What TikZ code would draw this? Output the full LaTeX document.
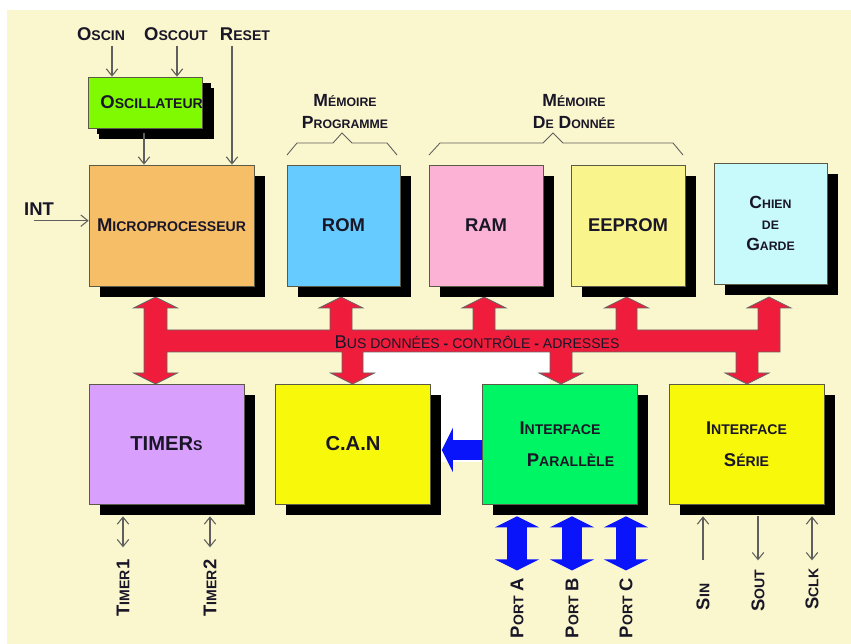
\documentclass[tikz,border=0pt]{standalone}
\usepackage{fontspec}
\setmainfont{Liberation Sans}
\usepackage{relsize}
\usetikzlibrary{arrows.meta,shadows,calc}
\definecolor{paper}{RGB}{250,246,205}
\definecolor{ink}{RGB}{25,22,40}
\definecolor{wire}{RGB}{95,95,95}
\definecolor{edge}{RGB}{90,90,70}
\definecolor{cosc}{RGB}{128,250,0}
\definecolor{cmpu}{RGB}{246,190,102}
\definecolor{crom}{RGB}{102,204,255}
\definecolor{cram}{RGB}{252,178,212}
\definecolor{ceep}{RGB}{250,244,140}
\definecolor{cwdg}{RGB}{200,250,252}
\definecolor{ctmr}{RGB}{216,160,252}
\definecolor{ccan}{RGB}{248,248,10}
\definecolor{cpar}{RGB}{0,245,100}
\definecolor{busred}{RGB}{240,28,60}
\definecolor{portblue}{RGB}{10,20,250}
% fake small capitals
\newcommand{\pc}[1]{\textscale{0.72}{#1}}

\begin{document}
\begin{tikzpicture}[x=0.02cm, y=-0.02cm,
    box/.style={draw=edge, line width=0.4pt, inner sep=0pt, align=center, text=ink,
                font=\fontsize{10.5}{12.5}\selectfont\bfseries,
                general shadow={fill=black, shadow xshift=6.2pt, shadow yshift=-6.2pt}},
    lbl/.style={inner sep=0pt, text=ink, align=center, font=\fontsize{10.5}{12.5}\selectfont\bfseries},
    vlbl/.style={lbl, rotate=90},
    sig/.style={draw=wire, line width=0.6pt, -{Straight Barb[length=4pt,width=6.5pt]}},
    sigboth/.style={sig, {Straight Barb[length=4pt,width=6.5pt]}-{Straight Barb[length=4pt,width=6.5pt]}},
    port/.style={draw=portblue, line width=11.4pt,
                 {Triangle[length=6.3pt,width=25pt]}-{Triangle[length=6.3pt,width=25pt]}},
    bus/.style={fill=busred, draw=black!60, line width=0.4pt}]
  \useasboundingbox (0,0) rectangle (851,644);
  \fill[white] (0,0) rectangle (851,644);
  \fill[paper] (7,10) rectangle (851,644);
  \fill[white] (363,352) rectangle (550,384);
  \fill[white] (430,384) rectangle (483,462);

  % system bus
  \draw[bus] (155.5,297) -- (177.5,308) -- (167,308) -- (167,330) -- (330,330) -- (330,308)
    -- (319,308) -- (341,297) -- (363,308) -- (352,308) -- (352,330) -- (473,330) -- (473,308)
    -- (462,308) -- (484,297) -- (506,308) -- (495,308) -- (495,330) -- (616,330) -- (616,308)
    -- (604.5,308) -- (626.5,297) -- (648.5,308) -- (637,308) -- (637,330) -- (758,330)
    -- (758,308) -- (747,308) -- (769,297) -- (791,308) -- (780,308) -- (780,352) -- (758,352)
    -- (758,373) -- (769,373) -- (747,384) -- (725,373) -- (736,373) -- (736,352) -- (572,352)
    -- (572,373) -- (583,373) -- (561,384) -- (539,373) -- (550,373) -- (550,352) -- (363,352)
    -- (363,373) -- (374.5,373) -- (352.5,384) -- (330.5,373) -- (342,373) -- (342,352)
    -- (167,352) -- (167,373) -- (177.5,373) -- (155.5,384) -- (133.5,373) -- (144,373)
    -- (144,308) -- (133.5,308) -- cycle;
  \node[font=\fontsize{10.5}{12.5}\selectfont, text=ink, inner sep=0pt] (buslbl) at (477,342)
    {B\pc{US DONNÉES \textbf{-} CONTRÔLE \textbf{-} ADRESSES}};

  % top row
  \node[box, fill=cosc, minimum width=2.26cm, minimum height=1.02cm,
        general shadow={fill=black, shadow xshift=4.8pt, shadow yshift=-3.2pt}]
        (osc) at (145.5,102.5) {\hspace*{7pt}O\pc{SCILLATEUR}};
  \node[box, fill=cmpu, minimum width=3.3cm, minimum height=2.42cm] (micro) at (171.5,225.5) {M\pc{ICROPROCESSEUR}};
  \node[box, fill=crom, minimum width=2.26cm, minimum height=2.42cm] (rom) at (343.5,225.5) {ROM};
  \node[box, fill=cram, minimum width=2.28cm, minimum height=2.42cm] (ram) at (486,225.5) {RAM};
  \node[box, fill=ceep, minimum width=2.28cm, minimum height=2.42cm] (eep) at (628,225.5) {EEPROM};
  \node[box, fill=cwdg, minimum width=2.26cm, minimum height=2.42cm, font=\fontsize{10}{12}\selectfont\bfseries]
        (wdg) at (770.5,223.5) {C\pc{HIEN}\\ \pc{DE}\\ G\pc{ARDE}};

  % bottom row
  \node[box, fill=ctmr, minimum width=3.1cm, minimum height=2.4cm, font=\fontsize{11.5}{13}\selectfont\bfseries]
        (tmr) at (166.5,444) {TIMER\pc{S}};
  \node[box, fill=ccan, minimum width=3.1cm, minimum height=2.4cm, font=\fontsize{11.5}{13}\selectfont\bfseries]
        (can) at (353,444) {C.A.N};
  \node[box, fill=cpar, minimum width=3.1cm, minimum height=2.4cm] (par) at (560,444)
        {I\pc{NTERFACE}\\[6pt] \hspace*{12pt}P\pc{ARALLÈLE}};
  \node[box, fill=ccan, minimum width=3.1cm, minimum height=2.4cm] (ser) at (746.5,444)
        {I\pc{NTERFACE}\\[6pt] S\pc{ÉRIE}};

  % memory groups
  \node[lbl, font=\fontsize{10}{12.5}\selectfont\bfseries] (memprog) at (345,112) {M\pc{ÉMOIRE}\\ P\pc{ROGRAMME}};
  \node[lbl, font=\fontsize{10}{12.5}\selectfont\bfseries] (memdata) at (574,112) {M\pc{ÉMOIRE}\\ D\pc{E} D\pc{ONNÉE}};
  \draw[wire, line width=0.5pt] (287,155) -- (297,143) -- (333,143) -- (342,133) -- (352,143) -- (387,143) -- (397,155);
  \draw[wire, line width=0.5pt] (429,155) -- (440,143) -- (543,143) -- (553,133) -- (563,143) -- (673,143) -- (683,155);

  % control inputs
  \node[lbl] (oscin) at (101,34) {O\pc{SCIN}};
  \node[lbl] (oscout) at (176,34) {O\pc{SCOUT}};
  \node[lbl] (reset) at (245,34) {R\pc{ESET}};
  \node[lbl] (int) at (39,209) {INT};
  \draw[sig] ($(oscin.south)+(11,5)$) coordinate (a1) -- (a1 |- osc.north);
  \draw[sig] ($(oscout.south)+(1,5)$) coordinate (a2) -- (a2 |- osc.north);
  \draw[sig] ($(reset.south)+(-13,5)$) coordinate (a3) -- (a3 |- micro.north);
  \draw[sig] ($(osc.south)+(-1.5,5)$) coordinate (a4) -- (a4 |- micro.north);
  \draw[sig] ($(int.south west)+(10,5)$) coordinate (a5) -- (a5 -| micro.west);

  % parallel port to converter
  \draw[port, -{Triangle[length=6.3pt,width=25pt]}] ($(par.west)+(0,6)$) -- ($(can.east)+(11,6)$);

  % outputs below the boxes
  \coordinate (shl) at ($(tmr.south)+(0,12)$);
  \coordinate (low) at ($(ser.south)+(0,56)$);
  \node[vlbl] (tmr1) at (123,588) {T\pc{IMER}1};
  \node[vlbl] (tmr2) at (210,588) {T\pc{IMER}2};
  \node[vlbl] (porta) at (517,608) {P\pc{ORT} A};
  \node[vlbl] (portb) at (572,608) {P\pc{ORT} B};
  \node[vlbl] (portc) at (626,608) {P\pc{ORT} C};
  \node[vlbl] (sin) at (703,597) {S\pc{IN}};
  \node[vlbl] (sout) at (758,591) {S\pc{OUT}};
  \node[vlbl] (sclk) at (812,589) {S\pc{CLK}};
  \draw[sigboth] ($(tmr1.east)+(0,-12)$) coordinate (b1) -- (b1 |- shl);
  \draw[sigboth] ($(tmr2.east)+(0,-12)$) coordinate (b2) -- (b2 |- shl);
  \draw[port] ($(porta.east)+(0,-7)$) coordinate (p1) -- (p1 |- shl);
  \draw[port] ($(portb.east)+(0,-7)$) coordinate (p2) -- (p2 |- shl);
  \draw[port] ($(portc.east)+(0,-7)$) coordinate (p3) -- (p3 |- shl);
  \draw[sig] (sin.east |- low) -- (sin.east |- shl);
  \draw[sig] (sout.east |- shl) -- (sout.east |- low);
  \draw[sigboth] (sclk.east |- low) -- (sclk.east |- shl);
\end{tikzpicture}
\end{document}
